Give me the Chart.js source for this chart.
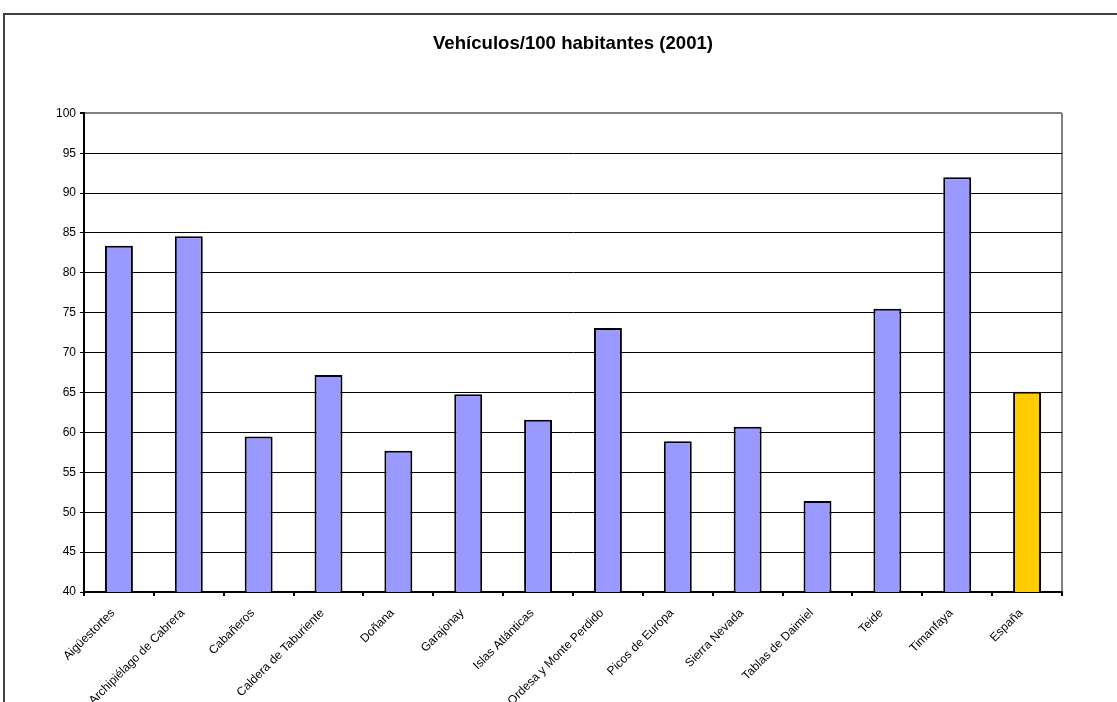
<!DOCTYPE html>
<html>
<head>
<meta charset="utf-8">
<title>Vehículos/100 habitantes (2001)</title>
<script src="https://cdn.jsdelivr.net/npm/chart.js@4.4.1/dist/chart.umd.min.js"></script>
<style>
    html, body { margin: 0; padding: 0; background: #fff; overflow: hidden; }
    #wrap { position: relative; width: 1117px; height: 702px; }
    #marco {
        position: absolute; left: 3px; top: 13px; width: 1200px; height: 800px;
        border: 2px solid #404040; pointer-events: none;
    }
</style>
</head>
<body>
<div id="wrap">
    <canvas id="grafico" width="1117" height="702"></canvas>
    <div id="marco"></div>
</div>
<script>
// Parques nacionales y media de España
const parques = [
    'Aigüestortes', 'Archipiélago de Cabrera', 'Cabañeros', 'Caldera de Taburiente',
    'Doñana', 'Garajonay', 'Islas Atlánticas', 'Ordesa y Monte Perdido',
    'Picos de Europa', 'Sierra Nevada', 'Tablas de Daimiel', 'Teide',
    'Timanfaya', 'España'
];
const vehiculos = [83.4, 84.6, 59.5, 67.2, 57.7, 64.8, 61.6, 73.1, 58.9, 60.7, 51.4, 75.5, 92.0, 65.1];
const ejeY = { min: 40, max: 100, paso: 5 };

const colorParque = '#9999ff';
const colorEspana = '#ffcc00';
const fuente = "'Liberation Sans', Arial, sans-serif";

const ctx = document.getElementById('grafico').getContext('2d');
new Chart(ctx, {
    type: 'bar',
    data: {
        labels: parques,
        datasets: [{
            data: vehiculos,
            backgroundColor: parques.map(p => p === 'España' ? colorEspana : colorParque),
            borderColor: '#000',
            borderWidth: 2,
            borderSkipped: false,
            barPercentage: 0.4,
            categoryPercentage: 1
        }]
    },
    options: {
        responsive: false,
        animation: false,
        layout: { padding: { left: 0, right: 55, top: 0, bottom: 0 } },
        plugins: {
            legend: { display: false },
            tooltip: { enabled: false },
            title: {
                display: true,
                fullSize: false,
                text: 'Vehículos/100 habitantes (2001)',
                color: '#000',
                font: { family: fuente, size: 18.6, weight: 'bold' },
                padding: { top: 33, bottom: 58 }
            }
        },
        scales: {
            x: {
                afterFit: s => { s.height = 110; },
                border: { color: '#000', width: 2 },
                grid: {
                    offset: true,
                    // la última línea (borde derecho) usa el contexto de la escala
                    color: c => c.type === 'scale' ? '#808080' : 'rgba(0,0,0,0)',
                    tickColor: '#000',
                    lineWidth: 2,
                    tickLength: 4
                },
                ticks: {
                    color: '#000',
                    font: { family: fuente, size: 12 },
                    minRotation: 45,
                    maxRotation: 45,
                    autoSkip: false,
                    padding: 10,
                    labelOffset: -6
                }
            },
            y: {
                min: ejeY.min,
                max: ejeY.max,
                afterFit: s => { s.width = 84; },
                border: { color: '#000', width: 2 },
                grid: {
                    color: c => c.tick && c.tick.value === ejeY.max ? '#808080' : '#000',
                    lineWidth: c => c.tick && c.tick.value === ejeY.max ? 2 : 1,
                    tickColor: '#000',
                    tickLength: 4
                },
                ticks: {
                    stepSize: ejeY.paso,
                    color: '#000',
                    font: { family: fuente, size: 12 },
                    padding: 4
                }
            }
        }
    }
});
</script>
</body>
</html>
